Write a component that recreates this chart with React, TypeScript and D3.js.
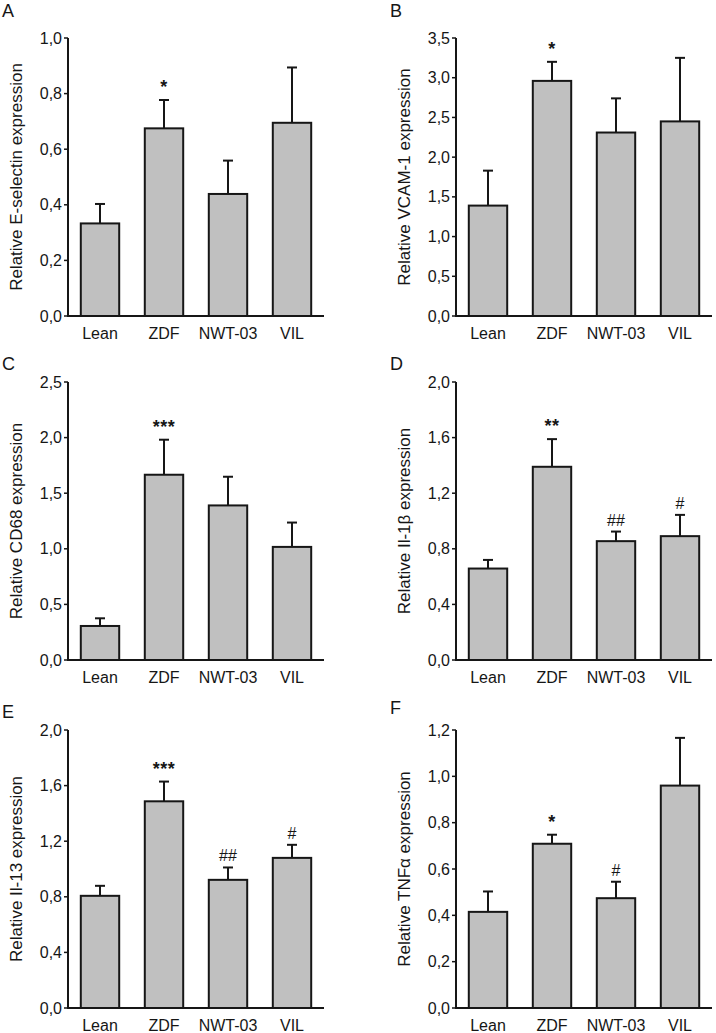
import React from "react";
import * as d3 from "d3";

const groups = ["Lean", "ZDF", "NWT-03", "VIL"];

const eSelectinMean = [0.333, 0.675, 0.439, 0.695];
const eSelectinSem = [0.07, 0.102, 0.12, 0.199];
const eSelectinSig = ["", "*", "", ""];

const vcamMean = [1.39, 2.96, 2.31, 2.45];
const vcamSem = [0.44, 0.24, 0.43, 0.8];
const vcamSig = ["", "*", "", ""];

const cd68Mean = [0.306, 1.666, 1.39, 1.017];
const cd68Sem = [0.069, 0.315, 0.258, 0.219];
const cd68Sig = ["", "***", "", ""];

const il1bMean = [0.658, 1.39, 0.855, 0.891];
const il1bSem = [0.062, 0.199, 0.069, 0.153];
const il1bSig = ["", "**", "##", "#"];

const il13Mean = [0.807, 1.487, 0.922, 1.08];
const il13Sem = [0.072, 0.142, 0.089, 0.094];
const il13Sig = ["", "***", "##", "#"];

const tnfMean = [0.415, 0.709, 0.474, 0.96];
const tnfSem = [0.088, 0.039, 0.071, 0.206];
const tnfSig = ["", "*", "#", ""];

const panelLetters = ["A", "B", "C", "D", "E", "F"];
const yLabels = [
  "Relative E-selectin expression",
  "Relative VCAM-1 expression",
  "Relative CD68 expression",
  "Relative Il-1\u03B2 expression",
  "Relative Il-13 expression",
  "Relative TNF\u03B1 expression",
];
const yMaxes = [1.0, 3.5, 2.5, 2.0, 2.0, 1.2];
const yTickSteps = [0.2, 0.5, 0.5, 0.4, 0.4, 0.2];

const means = [eSelectinMean, vcamMean, cd68Mean, il1bMean, il13Mean, tnfMean];
const sems = [eSelectinSem, vcamSem, cd68Sem, il1bSem, il13Sem, tnfSem];
const sigs = [eSelectinSig, vcamSig, cd68Sig, il1bSig, il13Sig, tnfSig];

const FONT = "'Liberation Sans', Arial, Helvetica, sans-serif";
const INK = "#161616";

// layout
const colAxisX = [68, 456];
const rowTop = [38, 382, 730];
const rowZero = [316, 660, 1008];
const rowLetterY = [[17, 17], [370, 370], [718, 714]];
const plotW = 256;

function Panel({ idx }: { idx: number }) {
  const col = idx % 2;
  const row = Math.floor(idx / 2);
  const x0 = colAxisX[col];
  const top = rowTop[row];
  const zero = rowZero[row];
  const yMax = yMaxes[idx];
  const step = yTickSteps[idx];
  const x = d3
    .scaleBand<string>()
    .domain(groups)
    .range([x0, x0 + plotW])
    .paddingInner(0.4)
    .paddingOuter(0.2);
  const y = d3.scaleLinear().domain([0, yMax]).range([zero, top]);
  const ticks = d3.range(0, yMax + step / 2, step);
  const fmt = (v: number) => d3.format(".1f")(v).replace(".", ",");
  const m = means[idx];
  const s = sems[idx];
  const sg = sigs[idx];
  const bw = x.bandwidth();
  const capW = 10;
  return (
    <g>
      <text
        x={col === 0 ? 2 : 390}
        y={rowLetterY[row][col]}
        fontFamily={FONT}
        fontSize={18}
        fill={INK}
      >
        {panelLetters[idx]}
      </text>
      <text
        transform={`translate(${x0 - 46},${(top + zero) / 2}) rotate(-90)`}
        textAnchor="middle"
        fontFamily={FONT}
        fontSize={17}
        fill={INK}
      >
        {yLabels[idx]}
      </text>
      {ticks.map((t) => (
        <g key={t}>
          <line x1={x0 - 4} x2={x0} y1={y(t)} y2={y(t)} stroke={INK} strokeWidth={1.5} />
          <text
            x={x0 - 6}
            y={y(t)}
            dy="0.35em"
            textAnchor="end"
            fontFamily={FONT}
            fontSize={16}
            fill={INK}
          >
            {fmt(t)}
          </text>
        </g>
      ))}
      {groups.map((g, i) => {
        const bx = x(g)!;
        const cx = bx + bw / 2;
        const errTop = y(m[i] + s[i]);
        const isHash = sg[i].startsWith("#");
        return (
          <g key={g}>
            <line x1={cx} x2={cx} y1={y(m[i])} y2={errTop} stroke={INK} strokeWidth={2} />
            <line x1={cx - capW / 2} x2={cx + capW / 2} y1={errTop} y2={errTop} stroke={INK} strokeWidth={2} />
            <rect
              x={bx}
              y={y(m[i])}
              width={bw}
              height={zero - y(m[i])}
              fill="#c0c0c0"
              stroke={INK}
              strokeWidth={2}
            />
            {sg[i] && (
              <text
                x={cx}
                y={errTop - (isHash ? 6 : 7)}
                textAnchor="middle"
                fontFamily={FONT}
                fontSize={isHash ? 16 : 18}
                fontWeight={isHash ? "normal" : "bold"}
                letterSpacing={isHash ? 0 : 0.5}
                fill={INK}
              >
                {sg[i]}
              </text>
            )}
            <text
              x={cx}
              y={zero + 23}
              textAnchor="middle"
              fontFamily={FONT}
              fontSize={16}
              fill={INK}
            >
              {g}
            </text>
          </g>
        );
      })}
      <line x1={x0} x2={x0} y1={top} y2={zero + 1} stroke={INK} strokeWidth={2} />
      <line x1={x0 - 1} x2={x0 + plotW} y1={zero} y2={zero} stroke={INK} strokeWidth={2} />
    </g>
  );
}

export default function App() {
  return (
    <svg
      width={716}
      height={1033}
      viewBox="0 0 716 1033"
      style={{ position: "absolute", left: 0, top: 0, background: "#fff" }}
    >
      <rect width={716} height={1033} fill="#fff" />
      {panelLetters.map((_, i) => (
        <Panel key={i} idx={i} />
      ))}
    </svg>
  );
}
